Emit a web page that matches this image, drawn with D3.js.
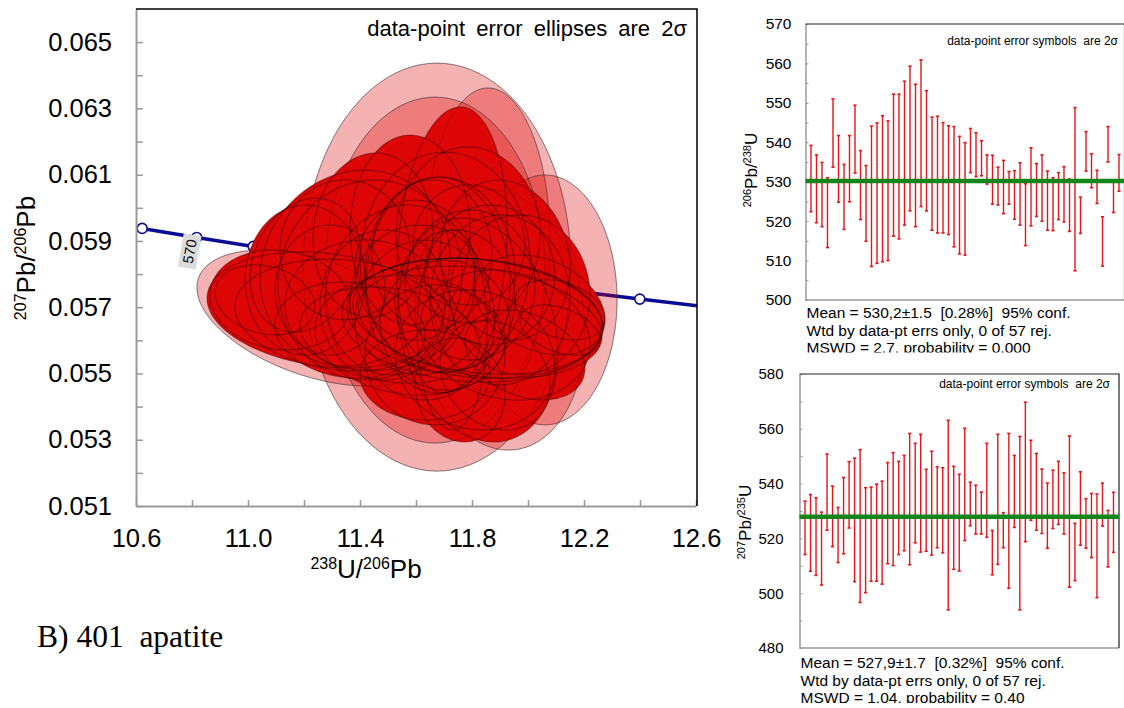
<!DOCTYPE html>
<html>
<head>
<meta charset="utf-8">
<script src="https://cdn.jsdelivr.net/npm/d3@7"></script>
<style>
  body { margin: 0; background: #fff; }
  svg { display: block; }
  text { white-space: pre; }
</style>
</head>
<body>
<svg id="chart" width="1124" height="708" font-family="'Liberation Sans', Arial, sans-serif"></svg>
<script>
// ---- data: Tera-Wasserburg ellipses (238U/206Pb, 207Pb/206Pb, 2s errors, rho)
const ellX = [11.275, 11.346, 11.382, 11.436, 11.729, 11.704, 11.789, 11.686, 11.679, 11.811,
  11.821, 11.800, 11.829, 11.821, 11.729, 11.204, 11.293, 11.543, 11.614, 11.632,
  11.579, 11.507, 11.900, 11.971, 11.918, 11.811, 11.668, 11.739, 11.418, 11.114,
  11.204, 11.346, 11.446, 11.579, 11.786, 11.918, 12.043, 12.114, 11.757, 11.632,
  11.882, 11.989, 11.489, 11.793, 11.657, 11.364, 11.061, 12.114, 11.596, 11.704,
  11.864, 11.675, 11.857, 12.061, 11.239, 11.668, 11.900];
const ellY = [0.05692, 0.05676, 0.05818, 0.05782, 0.05873, 0.05836, 0.05888, 0.05797, 0.05767, 0.05667,
  0.05673, 0.05661, 0.05655, 0.05631, 0.05631, 0.05782, 0.05752, 0.05752, 0.05722, 0.05661,
  0.05616, 0.05616, 0.05722, 0.05737, 0.05616, 0.05541, 0.05556, 0.05722, 0.05707, 0.05722,
  0.05827, 0.05873, 0.05918, 0.05933, 0.05918, 0.05842, 0.05707, 0.05692, 0.05450, 0.05495,
  0.05495, 0.05556, 0.05707, 0.05767, 0.05858, 0.05631, 0.05722, 0.05631, 0.05812, 0.05646,
  0.05797, 0.05821, 0.05903, 0.05722, 0.05667, 0.05812, 0.05661];
const ellSx = [0.4214, 0.3929, 0.3393, 0.3286, 0.1964, 0.3036, 0.2000, 0.2679, 0.2571, 0.4571,
  0.4464, 0.4643, 0.4357, 0.2857, 0.1250, 0.2143, 0.1964, 0.2679, 0.2500, 0.2500,
  0.3393, 0.3214, 0.2500, 0.2500, 0.3036, 0.2857, 0.2500, 0.2143, 0.2857, 0.2500,
  0.1964, 0.2321, 0.2143, 0.2143, 0.2571, 0.2321, 0.2321, 0.1607, 0.1607, 0.2321,
  0.1964, 0.2143, 0.2321, 0.2321, 0.2143, 0.2679, 0.1786, 0.1429, 0.2143, 0.2321,
  0.2321, 0.4786, 0.2214, 0.2571, 0.4214, 0.3929, 0.3036];
const ellSy = [0.001750, 0.001690, 0.002958, 0.003018, 0.004316, 0.003320, 0.001811, 0.002958, 0.003260, 0.001811,
  0.001750, 0.001871, 0.001690, 0.003380, 0.003018, 0.002263, 0.001962, 0.002565, 0.002263, 0.002414,
  0.001811, 0.001449, 0.002565, 0.002414, 0.001962, 0.002113, 0.002113, 0.002113, 0.001962, 0.001509,
  0.002022, 0.002113, 0.002475, 0.002867, 0.002656, 0.002414, 0.001509, 0.000905, 0.001569, 0.001358,
  0.001660, 0.001358, 0.002263, 0.002263, 0.002263, 0.001449, 0.001056, 0.000755, 0.002113, 0.001962,
  0.002113, 0.006157, 0.004587, 0.003772, 0.002052, 0.005221, 0.003923];
const ellRho = [-0.2, -0.15, 0.1, 0.05, 0.15, 0, 0, 0, 0, -0.15,
  -0.2, -0.1, -0.25, -0.2, 0, 0, 0, 0.1, 0, 0,
  -0.1, -0.2, 0, 0, -0.15, -0.1, 0, 0, 0, -0.1,
  0.2, 0, 0.05, 0, 0, -0.1, -0.3, -0.3, -0.1, 0,
  -0.2, -0.3, 0, 0, 0, -0.1, -0.2, -0.4, 0, 0,
  0, 0, 0, 0, -0.45, 0, -0.1];
// analysis set: 1 = main, 2 = faded group
const ellSet = [1, 1, 1, 1, 1, 1, 1, 1, 1, 1,
  1, 1, 1, 1, 1, 1, 1, 1, 1, 1,
  1, 1, 1, 1, 1, 1, 1, 1, 1, 1,
  1, 1, 1, 1, 1, 1, 1, 1, 1, 1,
  1, 1, 1, 1, 1, 1, 1, 1, 1, 1,
  1, 2, 2, 2, 2, 2, 2];

// concordia age marks (Ma)
const concordiaAges = [590, 580, 570, 560, 550, 540, 530, 520, 510, 500, 490, 480];
const labelledAge = 570;

// ---- data: weighted mean panels (2s error bar limits, Ma)
const age68Hi = [539.2, 536.8, 534.9, 531.0, 551.0, 541.7, 534.4, 541.7, 549.4, 537.9,
  534.1, 544.1, 544.9, 546.7, 545.4, 552.2, 552.2, 555.5, 559.3, 554.7,
  560.9, 553.1, 546.4, 546.6, 545.0, 544.2, 544.0, 541.5, 539.9, 543.5,
  542.4, 540.4, 536.8, 536.7, 533.7, 535.4, 532.6, 532.8, 534.8, 529.5,
  538.6, 534.6, 536.8, 532.7, 531.0, 532.3, 533.8, 530.7, 548.8, 526.1,
  542.7, 537.1, 532.9, 521.1, 544.0, 530.0, 536.9];
const age68Lo = [522.4, 519.6, 518.6, 513.3, 533.7, 524.8, 517.9, 524.9, 532.2, 520.4,
  514.9, 508.5, 509.3, 509.7, 510.0, 516.2, 515.5, 519.0, 522.6, 518.6,
  523.7, 522.6, 517.7, 517.0, 517.0, 516.6, 513.5, 511.7, 511.4, 532.3,
  531.3, 531.5, 529.4, 524.3, 524.1, 521.9, 524.3, 520.5, 519.0, 513.8,
  518.8, 521.2, 520.0, 517.7, 517.6, 520.4, 519.8, 517.4, 507.4, 516.9,
  532.7, 528.5, 524.5, 508.6, 535.0, 522.2, 527.6];
const age75Hi = [533.6, 536.0, 534.8, 529.6, 550.8, 539.1, 531.3, 542.2, 548.0, 549.3,
  552.4, 538.5, 538.7, 539.8, 540.9, 547.7, 551.3, 548.1, 550.3, 558.3,
  554.7, 558.0, 545.2, 551.8, 546.1, 545.8, 563.1, 546.3, 543.4, 560.2,
  540.5, 539.4, 536.9, 554.7, 522.9, 558.0, 529.4, 558.3, 550.3, 557.2,
  569.7, 555.8, 551.0, 545.3, 540.2, 544.9, 548.1, 543.9, 557.4, 525.5,
  544.3, 534.5, 536.4, 536.2, 540.2, 530.2, 536.8];
const age75Lo = [514.1, 508.0, 506.5, 503.0, 523.0, 517.0, 511.2, 514.4, 523.8, 504.2,
  496.6, 500.2, 504.4, 504.4, 503.3, 510.8, 510.1, 514.1, 515.5, 510.4,
  518.4, 515.0, 515.3, 513.9, 516.6, 514.7, 493.9, 508.7, 508.1, 519.2,
  524.6, 521.6, 521.6, 520.4, 506.7, 510.5, 516.6, 501.8, 524.0, 493.9,
  518.8, 526.6, 523.0, 521.8, 516.4, 523.6, 525.1, 521.6, 502.2, 504.6,
  517.5, 516.4, 513.0, 498.4, 524.5, 509.6, 514.9];

const mean68 = 530.2, mean75 = 527.9;
const stats68 = ["Mean = 530,2\u00b11.5  [0.28%]  95% conf.", "Wtd by data-pt errs only, 0 of 57 rej.", "MSWD = 2.7, probability = 0.000"];
const stats75 = ["Mean = 527,9\u00b11.7  [0.32%]  95% conf.", "Wtd by data-pt errs only, 0 of 57 rej.", "MSWD = 1,04, probability = 0,40"];

const xTicks = d3.range(0, 11).map(i => 10.6 + i * 0.2);
const yTicks = d3.range(51, 66).map(v => v / 1000);

const svg = d3.select("#chart");
const FONT = "'Liberation Sans', Arial, sans-serif";

// ================= main Tera-Wasserburg plot =================
const x = d3.scaleLinear().domain([10.6, 12.6]).range([136, 696]);
const y = d3.scaleLinear().domain([0.051, 0.066]).range([506, 9]);

svg.append("clipPath").attr("id", "plotclip")
  .append("rect").attr("x", 136).attr("y", 9).attr("width", 561).attr("height", 497);

const plot = svg.append("g").attr("clip-path", "url(#plotclip)");

// concordia from decay constants (per Ma)
const l238 = 1.55125e-4, l235 = 9.8485e-4;
const cX = t => 1 / (Math.exp(l238 * t) - 1);
const cY = t => (Math.exp(l235 * t) - 1) / (137.818 * (Math.exp(l238 * t) - 1));

plot.append("path")
  .datum(concordiaAges)
  .attr("d", d3.line().x(t => x(cX(t))).y(t => y(cY(t))))
  .attr("fill", "none").attr("stroke", "#0b0b96").attr("stroke-width", 3.5);

plot.selectAll(".cmark").data(concordiaAges).enter().append("circle")
  .attr("cx", t => x(cX(t))).attr("cy", t => y(cY(t))).attr("r", 5)
  .attr("fill", "#fff").attr("stroke", "#0b0b96").attr("stroke-width", 1.6);

// ellipses: fills first, then every outline on top
const ells = ellX.map((v, i) => ({ x: v, y: ellY[i], sx: ellSx[i], sy: ellSy[i], rho: ellRho[i], set: ellSet[i] }));
const ellPath = d => {
  const pts = d3.range(100).map(k => {
    const t = k / 100 * 2 * Math.PI;
    const ex = d.x + d.sx * Math.cos(t);
    const ey = d.y + d.sy * (d.rho * Math.cos(t) + Math.sqrt(1 - d.rho * d.rho) * Math.sin(t));
    return [x(ex), y(ey)];
  });
  return d3.line().curve(d3.curveLinearClosed)(pts);
};
const pale = ells.filter(d => d.set === 2), solid = ells.filter(d => d.set === 1);

plot.selectAll(".palefill").data(pale).enter().append("path")
  .attr("d", ellPath).attr("fill", "#dd0000").attr("fill-opacity", 0.3)
  .attr("stroke", "#444").attr("stroke-opacity", 0.5).attr("stroke-width", 1);

plot.selectAll(".solidfill").data(solid).enter().append("path")
  .attr("d", ellPath).attr("fill", "#dd0505");

plot.selectAll(".paleline").data(pale).enter().append("path")
  .attr("d", ellPath).attr("fill", "none")
  .attr("stroke", "#300").attr("stroke-opacity", 0.18).attr("stroke-width", 1);

plot.selectAll(".solidline").data(solid).enter().append("path")
  .attr("d", ellPath).attr("fill", "none")
  .attr("stroke", "#000").attr("stroke-opacity", 0.34).attr("stroke-width", 1.1);

// age label
const lab = svg.append("g")
  .attr("transform", `translate(${x(cX(labelledAge)) - 7},${y(cY(labelledAge)) + 14}) rotate(-80)`);
lab.append("rect").attr("x", -17).attr("y", -9).attr("width", 34).attr("height", 18).attr("fill", "#dcdcdc");
lab.append("text").attr("text-anchor", "middle").attr("dy", "0.35em")
  .attr("font-size", 14.5).text(String(labelledAge));

// axes
const gy = svg.append("g").attr("transform", "translate(136,0)")
  .call(d3.axisLeft(y).tickValues(yTicks).tickSizeInner(-7).tickSizeOuter(0).tickPadding(24)
    .tickFormat(d => Math.round(d * 1000) % 2 === 1 ? d3.format(".3f")(d) : ""));
const gx = svg.append("g").attr("transform", "translate(0,506)")
  .call(d3.axisBottom(x).tickValues(xTicks).tickSizeInner(-6).tickSizeOuter(0).tickPadding(23)
    .tickFormat((d, i) => i % 2 === 0 ? d.toFixed(1) : ""));
[gy, gx].forEach(g => {
  g.attr("font-family", FONT).attr("font-size", 25.5);
  g.select(".domain").attr("stroke", "#9a9a9a").attr("stroke-width", 2);
  g.selectAll(".tick line").attr("stroke", "#9a9a9a").attr("stroke-width", 1.5);
  g.selectAll(".tick text").attr("fill", "#000");
});
// top / right frame
svg.append("path").attr("d", "M136,9H697V506").attr("fill", "none").attr("stroke", "#000").attr("stroke-width", 1.5);

// titles
const xt = svg.append("text").attr("x", 366).attr("y", 578).attr("text-anchor", "middle").attr("font-size", 26);
xt.append("tspan").attr("font-size", 16).attr("dy", -9).text("238");
xt.append("tspan").attr("dy", 9).text("U/");
xt.append("tspan").attr("font-size", 16).attr("dy", -9).text("206");
xt.append("tspan").attr("dy", 9).text("Pb");

const yt = svg.append("text").attr("transform", "translate(35,258) rotate(-90)")
  .attr("text-anchor", "middle").attr("font-size", 26);
yt.append("tspan").attr("font-size", 16).attr("dy", -9).text("207");
yt.append("tspan").attr("dy", 9).text("Pb/");
yt.append("tspan").attr("font-size", 16).attr("dy", -9).text("206");
yt.append("tspan").attr("dy", 9).text("Pb");

svg.append("text").attr("x", 687).attr("y", 36).attr("text-anchor", "end")
  .attr("font-size", 22).attr("word-spacing", 5).text("data-point error ellipses are 2\u03c3");

svg.append("text").attr("x", 37).attr("y", 647)
  .style("font-family", "'Liberation Serif', 'Times New Roman', serif").attr("font-size", 31.5)
  .text("B) 401  apatite");

// ================= weighted-mean panels =================
function meanPanel(o) {
  const xs = d3.scaleLinear().domain([0, o.hi.length + 1]).range([o.left, o.right]);
  const ys = d3.scaleLinear().domain(o.domain).range([o.bottom, o.top]);
  const g = svg.append("g");

  const ga = g.append("g").attr("transform", `translate(${o.left},0)`)
    .call(d3.axisLeft(ys).tickValues(d3.range(o.domain[0], o.domain[1] + 0.1, o.minor))
      .tickSizeInner(-3).tickSizeOuter(0).tickPadding(o.pad)
      .tickFormat(d => d % o.major === 0 ? d : ""));
  ga.attr("font-family", FONT).attr("font-size", o.fs);
  ga.select(".domain").attr("stroke", "#9a9a9a").attr("stroke-width", 1.5);
  ga.selectAll(".tick line").attr("stroke", "#9a9a9a");
  ga.selectAll(".tick text").attr("fill", "#000");

  g.append("line").attr("x1", o.left).attr("x2", o.right).attr("y1", o.bottom).attr("y2", o.bottom)
    .attr("stroke", "#9a9a9a").attr("stroke-width", 1.5);
  g.append("path").attr("d", `M${o.left},${o.top}H${o.right}V${o.bottom}`)
    .attr("fill", "none").attr("stroke", "#222").attr("stroke-width", 1.2);

  const bars = g.selectAll(".bar").data(o.hi.map((h, i) => ({ i: i + 1, hi: h, lo: o.lo[i] })))
    .enter().append("g").attr("stroke", "#e3161b");
  bars.append("line").attr("x1", d => xs(d.i)).attr("x2", d => xs(d.i))
    .attr("y1", d => ys(d.hi)).attr("y2", d => ys(d.lo)).attr("stroke-width", 1.4);
  bars.append("line").attr("x1", d => xs(d.i) - 1.6).attr("x2", d => xs(d.i) + 1.6)
    .attr("y1", d => ys(d.hi)).attr("y2", d => ys(d.hi)).attr("stroke-width", 1.6);
  bars.append("line").attr("x1", d => xs(d.i) - 1.6).attr("x2", d => xs(d.i) + 1.6)
    .attr("y1", d => ys(d.lo)).attr("y2", d => ys(d.lo)).attr("stroke-width", 1.6);

  g.append("line").attr("x1", o.left).attr("x2", o.right).attr("y1", ys(o.mean)).attr("y2", ys(o.mean))
    .attr("stroke", "#12861a").attr("stroke-width", 4.5);

  g.append("text").attr("x", o.noteX).attr("y", o.noteY).attr("text-anchor", "end")
    .attr("font-size", 12).text("data-point error symbols  are 2\u03c3");

  const t = g.append("text").attr("transform", `translate(${o.titleX},${o.titleY}) rotate(-90)`)
    .attr("text-anchor", "middle").attr("font-size", 17);
  t.append("tspan").attr("font-size", 11).attr("dy", -6).text(o.title[0]);
  t.append("tspan").attr("dy", 6).text("Pb/");
  t.append("tspan").attr("font-size", 11).attr("dy", -6).text(o.title[1]);
  t.append("tspan").attr("dy", 6).text("U");

  g.selectAll(".stat").data(o.stats).enter().append("text")
    .attr("x", o.left + 1).attr("y", (d, i) => o.statY + i * 17.5)
    .attr("font-size", 15.5).text(d => d);
}

meanPanel({
  left: 805.5, right: 1124.5, top: 24, bottom: 300, domain: [500, 570], minor: 5, major: 10,
  pad: 14, fs: 15.5, hi: age68Hi, lo: age68Lo, mean: mean68,
  noteX: 1118, noteY: 45, title: ["206", "238"], titleX: 757, titleY: 170,
  stats: stats68, statY: 318
});
// the upper block is cut by the lower panel
svg.append("rect").attr("x", 730).attr("y", 352.5).attr("width", 394).attr("height", 19).attr("fill", "#fff");

meanPanel({
  left: 799.5, right: 1119, top: 374, bottom: 648, domain: [480, 580], minor: 10, major: 20,
  pad: 16, fs: 15, hi: age75Hi, lo: age75Lo, mean: mean75,
  noteX: 1110, noteY: 388, title: ["207", "235"], titleX: 751, titleY: 522,
  stats: stats75, statY: 668
});
svg.append("rect").attr("x", 730).attr("y", 703).attr("width", 394).attr("height", 5).attr("fill", "#fff");
</script>
</body>
</html>
